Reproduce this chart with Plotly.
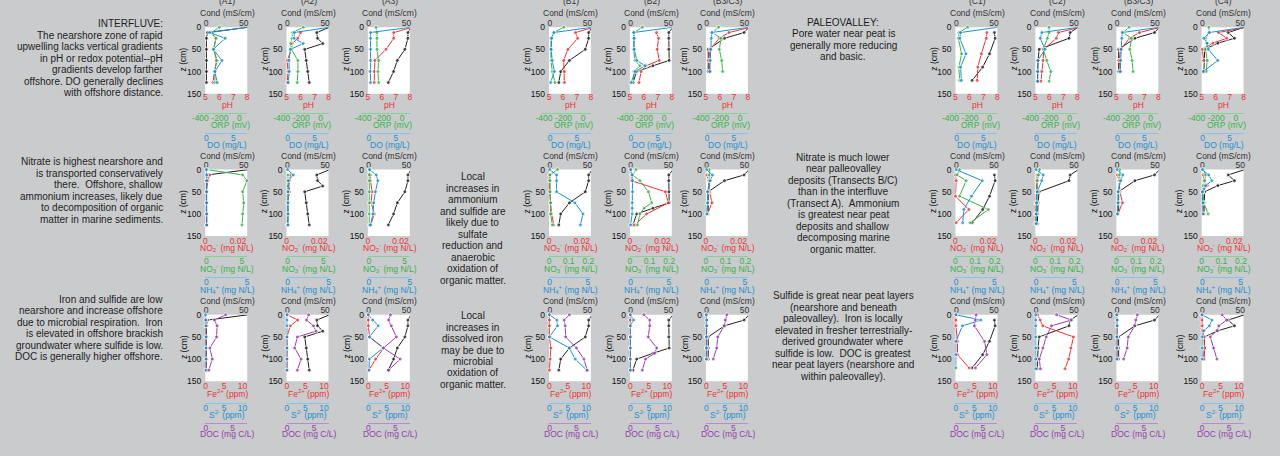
import plotly.graph_objects as go

# ---------------------------------------------------------------------------
# DATA
# Z_* : depth of each sample (cm).  Cond shared by the three rows of a core.
# ---------------------------------------------------------------------------
Z_A1 = [0, 12, 25, 50, 75, 100, 125]
COND_A1 = [56, 2, 0.5, 0.5, 0.5, 0.5, 0.5]
PH_A1 = [None, 5.4, 5.75, 5.6, 5.85, 5.65, 5.55]
ORP_A1 = [-205, -285, -240, -262, -236, -252, -250]
DO_A1 = [7.8, 0.6, 3.5, 1.3, 2.9, 1.6, 2.0]
NO2_A1 = [None, 0.0026, 0.0016, 0.0006, 0.0006, 0.0006, 0.001]
NO3_A1 = [0.1, 5.1, 5.7, 5.1, 5.25, 5.1, 5.0]
NH4_A1 = [0.0, 0.05, 0.05, 0.05, 0.05, 0.05, 0.05]
FE_A1 = [None, 0.1, 0.1, 0.1, 0.1, 0.1, 0.1]
S_A1 = [0.0, 0.0, 0.1, 0.1, 0.1, 0.1, 0.1]
DOC_A1 = [3.7, 1.6, 2.1, 2.0, 0.75, 1.2, 0.56]

Z_A2 = [0, 12, 25, 37, 50, 75, 100, 125]
COND_A2 = [56, 39, 40, 47, 23, 25, 27, 29]
PH_A2 = [None, 6.0, 5.8, 5.4, 5.35, 5.05, 5.1, 5.05]
ORP_A2 = [-177, -287, -293, -307, -300, -233, -233, -240]
DO_A2 = [7.8, 1.25, 1.2, 2.9, 0.5, 0.25, 0.3, 0.1]
NO2_A2 = [None, 0.0024, 0.0018, None, 0.0018, 0.0006, 0.001, 0.0004]
NO3_A2 = [None, 0.05, 0.05, 0.05, 0.05, 0.05, 0.05, 0.05]
NH4_A2 = [0.0, 0.7, 0.1, None, 0.05, 0.05, 0.05, 0.05]
FE_A2 = [0.1, 2.9, 0.9, None, 0.0, 0.0, 0.0, 0.0]
S_A2 = [0.0, 0.0, 0.0, None, 0.0, 0.0, 0.0, 0.0]
DOC_A2 = [4.0, 3.6, 4.9, 5.4, 1.9, 1.4, 2.6, 1.9]

Z_A3 = [0, 12, 25, 50, 75, 100, 125]
COND_A3 = [56, 52, 52, 48, 38, 33, 26]
PH_A3 = [8.2, 6.85, 6.85, 6.3, 5.5, 5.45, 5.45]
ORP_A3 = [-266, -256, -256, -256, -239, -246, -239]
DO_A3 = [7.8, 0.3, 0.3, 0.3, 0.3, 0.2, 0.3]
NO2_A3 = [None, 0.0016, 0.0016, 0.0026, 0.002, 0.004, 0.0016]
NO3_A3 = [0.05, 0.05, 0.05, 0.05, 0.05, 0.05, 0.05]
NH4_A3 = [0.1, 0.9, 1.1, 0.8, 0.6, 0.5, 0.2]
FE_A3 = [0.0, 0.0, 0.0, 0.4, 4.2, 2.0, 0.2]
S_A3 = [0.0, 1.2, 2.7, 0.3, 4.0, 0.3, 0.2]
DOC_A3 = [4.1, 3.75, 4.25, 5.2, 2.8, 5.9, 3.75]

Z_B1 = [0, 12, 25, 50, 75, 100, 125]
COND_B1 = [56, 51.5, 51.5, 47, 26, 14.5, 12]
PH_B1 = [8.2, 6.9, 7.05, 6.35, 6.05, 6.1, 6.1]
ORP_B1 = [-197, -298, -329, -332, -329, -315, -288]
DO_B1 = [7.8, 0.7, 0.3, 0.2, 0.4, 0.8, 0.1]
NO2_B1 = [None, 0.0004, 0.0004, 0.0004, 0.001, 0.0016, 0.003]
NO3_B1 = [0.043, 0.005, 0.005, 0.005, 0.008, 0.008, 0.017]
NH4_B1 = [0.0, 0.9, 0.9, 0.9, 3.3, 4.35, 4.0]
FE_B1 = [0.0, 0.0, 0.0, 0.0, 0.4, 0.2, 0.0]
S_B1 = [0.0, 2.05, 2.2, 0.0, 5.4, 7.0, 10.1]
DOC_B1 = [3.7, 2.7, 2.9, 3.0, 5.0, 6.4, 7.0]

Z_B2 = [0, 12, 25, 50, 75, 87, 100, 125]
COND_B2 = [56, 50.5, 50.5, 50.5, 51, 29.5, 8, 3]
PH_B2 = [None, 6.9, 7.05, 6.95, 7.1, 6.15, 5.8, 5.65]
ORP_B2 = [-222, -308, -311, -311, -297, -246, -308, -315]
DO_B2 = [7.8, 0.5, 0.6, 0.6, 1.1, 2.6, 0.8, 0.0]
NO2_B2 = [0.0006, 0.001, 0.001, 0.0218, 0.0235, None, 0.0102, 0.003]
NO3_B2 = [0.031, 0.014, 0.051, 0.094, 0.111, 0.072, 0.051, 0.038]
NH4_B2 = [0.0, 0.2, 0.25, 0.25, 0.2, 0.2, 0.2, 0.0]
FE_B2 = [0.0, 0.0, 0.0, 0.0, 0.0, None, 0.0, 0.0]
S_B2 = [0.0, 0.9, 0.0, 0.0, 0.0, None, 0.0, 0.0]
DOC_B2 = [2.5, 3.6, 3.6, 3.3, 4.9, 4.5, 2.8, 2.2]

Z_B3C3 = [0, 12, 25, 50, 75, 100]
COND_B3C3 = [56, 49.5, 23.5, 2.0, 2.0, 2.0]
PH_B3C3 = [8.2, 6.65, 5.95, 5.3, 5.2, 5.3]
ORP_B3C3 = [-219, -280, -195, -212, -188, -178]
DO_B3C3 = [7.8, 0.9, 0.8, 0.7, 0.6, 0.5]
NO2_B3C3 = [None, 0.0006, 0.0016, 0.0022, 0.0037, 0.001]
NO3_B3C3 = [0.017, 0.017, 0.017, 0.01, 0.008, 0.005]
NH4_B3C3 = [0.0, 0.76, 0.47, 0.13, 0.13, 0.04]
FE_B3C3 = [0.0, 0.1, 0.1, 0.1, 0.1, 0.1]
S_B3C3 = [0.0, 0.1, 0.1, 0.0, 0.0, 0.0]
DOC_B3C3 = [3.8, 3.5, 3.3, 2.1, 1.9, 1.25]

Z_C1 = [0, 12, 25, 60, 90, 120]
COND_C1 = [None, 50.5, 51.5, 44, 35, 21]
PH_C1 = [None, 7.25, 7.2, 6.85, 6.6, 6.55]
ORP_C1 = [-225, -314, -321, -286, -314, -307]
DO_C1 = [7.8, 0.75, 0.6, 1.75, 0.75, 0.9]
NO2_C1 = [None, 0.0, 0.0004, 0.0, 0.0082, 0.0004]
NO3_C1 = [0.02, 0.008, 0.054, 0.021, 0.167, 0.074]
NH4_C1 = [0.0, None, 3.4, 2.0, 1.0, 0.85]
FE_C1 = [0.0, 0.0, 0.0, 0.45, 0.45, 3.6]
S_C1 = [0.0, 6.8, 1.8, 0.0, 0.0, 0.0]
DOC_C1 = [3.75, 3.6, 3.4, 5.3, 5.75, 3.6]

Z_C2 = [0, 12, 25, 50, 75, 100, 122]
COND_C2 = [56, 45, 43.5, 4.0, 2.5, 1.7, 1.7]
PH_C2 = [8.2, 6.65, 6.5, 5.6, 5.55, 5.45, 5.4]
ORP_C2 = [-209, -209, -226, -268, -233, -191, -209]
DO_C2 = [7.8, 1.0, 0.7, 1.6, 0.25, 0.25, 0.25]
NO2_C2 = [None, 0.001, 0.0008, 0.0004, 0.0004, 0.0002, 0.0002]
NO3_C2 = [0.021, 0.016, 0.01, 0.01, 0.005, 0.002, 0.002]
NH4_C2 = [0.0, 0.94, 0.74, 0.16, 0.08, 0.04, 0.04]
FE_C2 = [0.5, 1.2, 1.9, 10.2, 9.5, 8.9, 7.9]
S_C2 = [0.0, 0.0, 0.0, 0.0, 0.0, 0.0, 0.0]
DOC_C2 = [3.85, 6.6, 2.9, 1.9, 1.3, 0.64, 0.83]

Z_C4 = [0, 12, 25, 36, 50, 75, 100]
COND_C4 = [56, 34, 42.5, 20.5, 3.0, 3.0, 2.0]
PH_C4 = [8.2, 6.2, 6.8, 5.8, 5.05, 5.15, None]
ORP_C4 = [-275, -275, -309, -292, -309, -292, -302]
DO_C4 = [7.8, 1.25, 0.2, 0.8, 1.05, 2.8, 0.1]
NO2_C4 = [None, 0.001, 0.0014, 0.0035, 0.0006, 0.001, 0.0014]
NO3_C4 = [0.008, 0.021, 0.016, 0.008, 0.005, 0.011, 0.033]
NH4_C4 = [0.0, 0.83, 1.25, 0.42, 0.0, 0.08, 0.08]
FE_C4 = [0.0, 0.0, 0.0, 0.1, 0.5, 0.7, 0.5]
S_C4 = [0.0, 2.7, 2.0, 0.5, 0.0, 0.0, 0.0]
DOC_C4 = [3.7, 4.55, 3.1, 2.75, 1.5, 2.1, 2.75]

PANEL_IDS = ["A1", "A2", "A3", "B1", "B2", "B3C3", "C1", "C2", "B3C3", "C4"]
PANEL_TITLES = ["(A1)", "(A2)", "(A3)", "(B1)", "(B2)", "(B3/C3)",
                "(C1)", "(C2)", "(B3/C3)", "(C4)"]
Z_TICKS = [0, 50, 100, 150]

TEXT_LEFT = [
    ["INTERFLUVE:", "The nearshore zone of rapid", "upwelling lacks vertical gradients",
     "in pH or redox potential--pH", "gradients develop farther",
     "offshore. DO generally declines", "with offshore distance."],
    ["Nitrate is highest nearshore and", "is transported conservatively",
     "there.\u00a0 Offshore, shallow", "ammonium increases, likely due",
     "to decomposition of organic", "matter in marine sediments."],
    ["Iron and sulfide are low", "nearshore and increase offshore",
     "due to microbial respiration.\u00a0 Iron", "is elevated in offshore brackish",
     "groundwater where sulfide is low.", "DOC is generally higher offshore."],
]
TEXT_MID = [
    [],
    ["Local", "increases in", "ammonium", "and sulfide are", "likely due to", "sulfate",
     "reduction and", "anaerobic", "oxidation of", "organic matter."],
    ["Local", "increases in", "dissolved iron", "may be due to", "microbial",
     "oxidation of", "organic matter."],
]
TEXT_RIGHT = [
    ["PALEOVALLEY:", "Pore water near peat is", "generally more reducing", "and basic."],
    ["Nitrate is much lower", "near palleovalley", "deposits (Transects B/C)",
     "than in the interfluve", "(Transect A).\u00a0 Ammonium", "is greatest near peat",
     "deposits and shallow", "decomposing marine", "organic matter."],
    ["Sulfide is great near peat layers", "(nearshore and beneath",
     "paleovalley).\u00a0 Iron is locally", "elevated in fresher terrestrially-",
     "derived groundwater where", "sulfide is low.\u00a0 DOC is greatest",
     "near peat layers (nearshore and", "within paleovalley)."],
]

# ---------------------------------------------------------------------------
# STYLE / LAYOUT
# ---------------------------------------------------------------------------
W, H = 1280, 456
BG = "#c9cbcc"
FONT = "Liberation Sans, Arial, Helvetica, sans-serif"
FS = 8.5
RED, GREEN, BLUE, PURPLE, BLACK = "#ec3237", "#35b34a", "#1c8fd0", "#9340a8", "#231f20"
GREEN_L, BLUE_L, PURPLE_L = "#86cf95", "#86c3e8", "#b98ccb"
TXT = "#1e1e1e"

PANEL_LEFT = [200, 282, 364, 546.7, 628.3, 705, 956.7, 1037.3, 1119, 1205]
BOX_W = 42.3
ROW_TOP = [22.7, 168.3, 316.7]
BOX_H = 68
# offsets (px below box bottom) : second-axis line, third-axis line, three titles
ROW_OFF = [
    dict(l2=19.3, l3=40.3, t1=12.8, t2=33.8, t3=53.8, sb=-3, sf=-3),
    dict(l2=20.3, l3=41.7, t1=13.3, t2=34.8, t3=55.8, sb=-2, sf=-3),
    dict(l2=22.3, l3=42.3, t1=14.3, t2=35.7, t3=55.7, sb=-2, sf=-3),
]
COND_RANGE = [-1.0, 54.5]
ANN_DY = -1.5


def row_specs(r, group_a):
    if r == 0:
        return [
            ("PH", RED, None, [5, 8], [5, 6, 7, 8], None, "pH", 0),
            ("ORP", GREEN, GREEN_L, [-420, 80], [-400, -200, 0], ["-400", "-200", "0"],
             "ORP (mV)", 7),
            ("DO", BLUE, BLUE_L, [-0.2, 7.6], [0, 5], None, "DO (mg/L)", 0),
        ]
    if r == 1:
        no3 = ([-0.14, 5.74], [0, 5], None) if group_a else ([0, 0.213], [0, 0.1, 0.2], ["0", "0.1", "0.2"])
        nh4 = [-0.12, 5.0] if group_a else [-0.09, 5.39]
        return [
            ("NO2", RED, None, [0, 0.0257], [0, 0.02], ["0", "0.02"],
             "NO<sub>2</sub><sup>-</sup> (mg N/L)", 0),
            ("NO3", GREEN, GREEN_L, no3[0], no3[1], no3[2],
             "NO<sub>3</sub><sup>-</sup> (mg N/L)", 0),
            ("NH4", BLUE, BLUE_L, nh4, [0, 5], None,
             "NH<sub>4</sub><sup>+</sup> (mg N/L)", 0),
        ]
    return [
        ("FE", RED, None, [-0.1, 11.25], [0, 5, 10], None, "Fe<sup>2+</sup> (ppm)", 0),
        ("S", BLUE, BLUE_L, [-0.1, 11.25], [0, 5, 10], None, "S<sup>2-</sup> (ppm)", 0),
        ("DOC", PURPLE, PURPLE_L, [-0.1, 7.7], [0, 5], None, "DOC (mg C/L)", 0),
    ]


def get(name, pid):
    return globals()[f"{name}_{pid}"]


def axname(kind, i):
    return kind + ("" if i == 1 else str(i))


def sizes(vals, rng):
    lo, hi = min(rng), max(rng)
    return [0 if (v is None or v < lo or v > hi) else 4 for v in vals]


fig = go.Figure()
layout = dict(
    width=W, height=H, margin=dict(l=0, r=0, t=0, b=0),
    paper_bgcolor=BG, plot_bgcolor="rgba(0,0,0,0)", showlegend=False,
    hovermode=False, font=dict(family=FONT, size=FS, color=TXT),
)
shapes, annos = [], []


def ann(text, xpx, ypx, color=TXT, size=FS, xanchor="center", angle=0):
    annos.append(dict(text=text, x=xpx / W, y=1 - (ypx + ANN_DY) / H, xref="paper",
                      yref="paper", showarrow=False, xanchor=xanchor, yanchor="middle",
                      textangle=angle, font=dict(family=FONT, size=size, color=color)))


def base_axis(**kw):
    d = dict(showgrid=False, zeroline=False, showline=False, ticks="", tickangle=0,
             tickfont=dict(family=FONT, size=FS))
    d.update(kw)
    return d


k = 0
for r in range(3):
    top = ROW_TOP[r]
    bot = top + BOX_H
    off = ROW_OFF[r]
    for p, pid in enumerate(PANEL_IDS):
        L = PANEL_LEFT[p]
        R = L + BOX_W
        cx = (L + R) / 2
        yi = k + 1
        xc, xb, x2, x3 = 4 * k + 1, 4 * k + 2, 4 * k + 3, 4 * k + 4
        yref = axname("y", yi)
        Z = get("Z", pid)
        ydom = [1 - bot / H, 1 - top / H]

        # white plotting box
        shapes.append(dict(type="rect", xref="paper", yref="paper", layer="below",
                           x0=L / W, x1=R / W, y0=ydom[0], y1=ydom[1],
                           fillcolor="white", line=dict(width=0)))

        layout[axname("yaxis", yi)] = base_axis(
            domain=ydom, range=[150, 0], tickvals=Z_TICKS, anchor=axname("x", xb),
            ticklabelstandoff=3, tickfont=dict(family=FONT, size=FS, color="#111"))
        ann("z (cm)", L - 22, (top + bot) / 2, color="#111", angle=-90)

        # conductivity (top axis)
        layout[axname("xaxis", xc)] = base_axis(
            domain=[L / W, R / W], anchor=yref, side="top", range=COND_RANGE,
            tickvals=[0, 50], ticklabelstandoff=-1,
            tickfont=dict(family=FONT, size=FS, color="#333"))
        ann("Cond (mS/cm)", cx + 1, top - 12.7, color="#333")
        if r == 0:
            ann(PANEL_TITLES[p], cx + 1, -3.0, color="#333")
        cond = get("COND", pid)
        fig.add_trace(go.Scatter(
            x=cond, y=Z, xaxis=axname("x", xc), yaxis=yref, mode="lines+markers",
            line=dict(color=BLACK, width=1), marker=dict(color=BLACK, size=sizes(cond, COND_RANGE)),
            cliponaxis=False, connectgaps=True))

        specs = row_specs(r, p < 3)
        xs = [xb, x2, x3]
        for j, (name, col, lcol, rng, tv, tt, title, ext) in enumerate(specs):
            xi = xs[j]
            ax = base_axis(domain=[(L - ext) / W, R / W], range=rng, tickvals=tv,
                           tickfont=dict(family=FONT, size=FS, color=col), side="bottom")
            if tt:
                ax["ticktext"] = tt
            if j == 0:
                ax.update(anchor=yref, ticklabelstandoff=off["sb"])
                ty = off["t1"]
            else:
                lp = off["l2"] if j == 1 else off["l3"]
                ax.update(anchor="free", position=1 - (bot + lp) / H, showline=True,
                          linecolor=lcol, linewidth=1, ticklabelstandoff=off["sf"])
                ty = off["t2"] if j == 1 else off["t3"]
            layout[axname("xaxis", xi)] = ax
            shift = 4 if name == "ORP" else 1
            ann(title, cx + shift, bot + ty, color=col)
            vals = get(name, pid)
            fig.add_trace(go.Scatter(
                x=vals, y=Z, xaxis=axname("x", xi), yaxis=yref, mode="lines+markers",
                line=dict(color=col, width=1), marker=dict(color=col, size=sizes(vals, rng)),
                cliponaxis=False, connectgaps=True))
        k += 1

# descriptive text blocks
LEFT_Y0 = [20.7, 161.7, 302.5]
MID_Y0 = [None, 177.3, 319.0]
RIGHT_Y0 = [19.3, 157.3, 299.0]
LH = 11.75
for r in range(3):
    for i, line in enumerate(TEXT_LEFT[r]):
        ann(line, 159.5, LEFT_Y0[r] + i * LH, size=10, xanchor="right")
    for i, line in enumerate(TEXT_MID[r]):
        ann(line, 470, MID_Y0[r] + i * LH, size=10)
    for i, line in enumerate(TEXT_RIGHT[r]):
        ann(line, 843.5, RIGHT_Y0[r] + i * LH, size=10)

layout["shapes"] = shapes
layout["annotations"] = annos
fig.update_layout(**layout)
fig.write_html("out.html", config={"displayModeBar": False},
               post_script="document.body.style.margin='0';document.body.style.padding='0';")
